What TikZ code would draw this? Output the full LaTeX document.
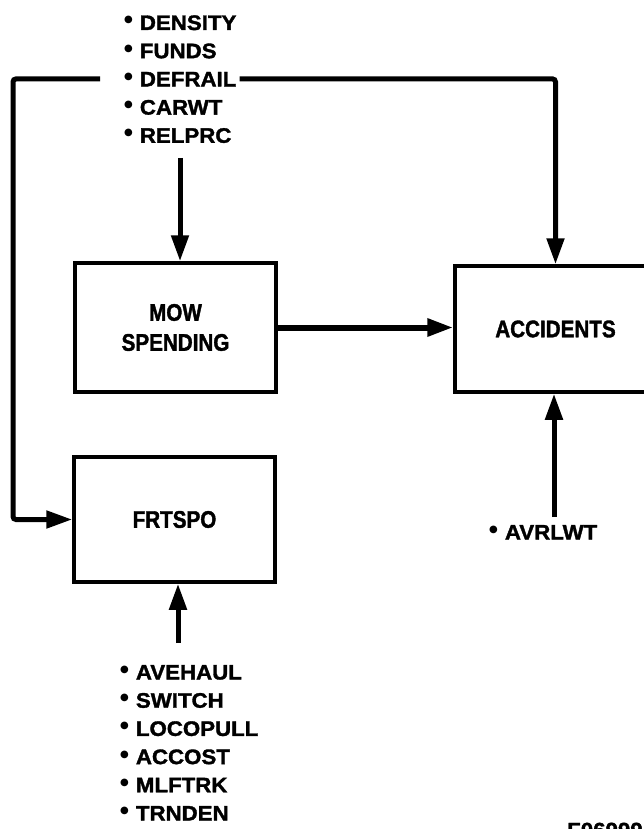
\documentclass[tikz,border=0pt]{standalone}
\usepackage{fontspec}
\setmainfont{Liberation Sans}
\newfontfamily\listfont[FakeStretch=1.06,FakeBold=1.6]{Liberation Sans}
\newfontfamily\boxfont[FakeStretch=0.86,FakeBold=1.6]{Liberation Sans}
\newfontfamily\dvs{DejaVu Sans}
\usetikzlibrary{arrows.meta}
\newcommand{\bul}{\raisebox{7pt}{\dvs\fontsize{10}{10}\selectfont ●}\hspace{7pt}}
\tikzset{
  box/.style={draw, line width=3.5pt, minimum width=201pt, inner sep=0pt, align=center,
    font=\boxfont\bfseries\fontsize{24}{30}\selectfont},
  item/.style={anchor=base west, inner sep=0pt, text height=15pt, text depth=0pt,
    font=\listfont\bfseries\fontsize{21}{21}\selectfont},
  conn/.style={line width=5pt, -{Triangle[length=26pt,width=17pt]}},
}
\begin{document}
\begin{tikzpicture}[x=1pt,y=-1pt]
\useasboundingbox (0,0) rectangle (644,829);
% boxes
\node[box, minimum height=129pt] (mow) at (175.5,327.5) {MOW\\SPENDING};
\node[box, minimum height=126pt] (acc) at (555.5,329) {ACCIDENTS};
\node[box, minimum height=125pt] (frt) at (174.5,519.5) {FRTSPO};
% top list
\node[item] (t1) at (124,30) {\bul DENSITY};
\node[item] (t2) at (124,58.2) {\bul FUNDS};
\node[item] (t3) at (124,86.4) {\bul DEFRAIL};
\node[item] (t4) at (124,114.6) {\bul CARWT};
\node[item] (t5) at (124,142.8) {\bul RELPRC};
% bottom list
\node[item] (b1) at (120,679.5) {\bul AVEHAUL};
\node[item] (b2) at (120,707.7) {\bul SWITCH};
\node[item] (b3) at (120,735.9) {\bul LOCOPULL};
\node[item] (b4) at (120,764.1) {\bul ACCOST};
\node[item] (b5) at (120,792.3) {\bul MLFTRK};
\node[item] (b6) at (120,820.5) {\bul TRNDEN};
% right input
\node[item] (avr) at (489,539.5) {\bul AVRLWT};
% page label (cut off at the bottom edge, as in the original)
\node[anchor=north west, inner sep=0pt, font=\listfont\bfseries\fontsize{21}{21}\selectfont] (fig) at (567,822.5) {F06999};
% connectors
\coordinate (ts) at (180,158);
\draw[conn] (ts) -- (ts |- mow.north);
\coordinate (lc) at (13,519.5);
\draw[conn, rounded corners=3pt] ([xshift=-24pt]t3.west) -| (lc) -- (frt.west);
\draw[conn, rounded corners=3pt] ([xshift=3pt]t3.east) -| (acc.north);
\draw[conn, line width=6pt] (mow.east) -- (mow.east -| acc.west);
\coordinate (as) at (554,517);
\draw[conn] (as) -- (as |- acc.south);
\coordinate (bs) at (178,643);
\draw[conn] (bs) -- (bs |- frt.south);
\end{tikzpicture}
\end{document}
